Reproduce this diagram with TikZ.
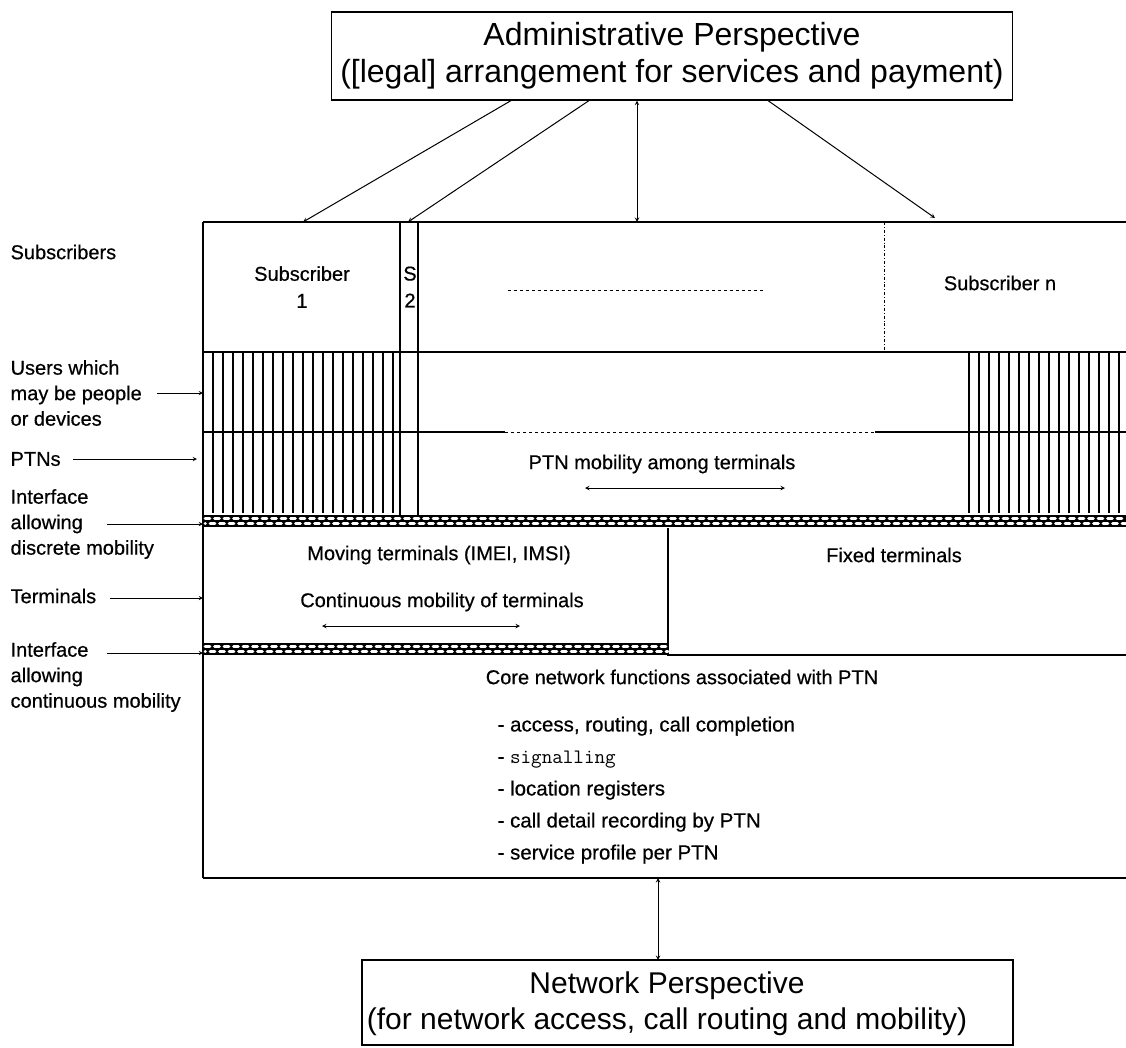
\documentclass[tikz,border=0pt]{standalone}
\usepackage{fontspec}
\setmainfont{Liberation Sans}[FakeBold=0.5]
\newfontfamily\plainsans{Liberation Sans}

\tikzset{
  lbl/.style={anchor=west,align=left,inner sep=0pt,font=\fontsize{20}{25.5}\selectfont},
  txt/.style={inner sep=0pt,align=center,font=\fontsize{20}{27}\selectfont},
  persp/.style={align=center,font=\plainsans\fontsize{32}{37}\selectfont},
  band/.style={white,line width=2.6pt,line cap=round,dash pattern=on 5pt off 4.5pt},
  thin/.style={line width=0.8pt}
}
% interface band: left x, right x, top y
\newcommand{\ifband}[3]{%
  \fill (#1,#3) rectangle (#2,#3+12);
  \draw[band] (#1+2,#3+3.6) -- (#2,#3+3.6);
  \draw[band,dash phase=4.5pt] (#1+2,#3+8.4) -- (#2,#3+8.4);
}

\begin{document}
\begin{tikzpicture}[x=1pt,y=-1pt,>=stealth,line width=1.2pt]
  \useasboundingbox (0,0) rectangle (1126,1047);

  % the two perspectives
  \node[persp,draw,minimum width=681pt,minimum height=88pt] (admin) at (672,56)
        {Administrative Perspective\\([legal] arrangement for services and payment)};
  \node[persp,font=\plainsans\fontsize{30}{36}\selectfont] (net) at (667,1004)
        {Network Perspective\\(for network access, call routing and mobility)};
  \draw (362,960) rectangle (1013,1045);
  \coordinate (nettop) at (658,960);

  % frame of the layers
  \coordinate (edge) at (203,0);
  \draw (203,222) -- (1126,222);
  \draw (203,222) -- (203,878);
  \draw (203,352) -- (1126,352);
  \draw (203,432) -- (505,432) (875,432) -- (1126,432);
  \draw[thin,dashed] (505,432) -- (875,432);
  \draw (400,222) -- (400,515) (418,222) -- (418,515);
  \draw[thin,dash dot] (884,222) -- (884,352);
  \draw[thin,dashed] (508,290) -- (765,290);
  \foreach \x in {213,223,...,393}
    \draw[line width=1.4pt] (\x,352) -- (\x,513);
  \foreach \x in {969,979,...,1119}
    \draw[line width=1.4pt] (\x,352) -- (\x,513);
  \draw[line width=2pt] (203,352) -- (203,515);
  \ifband{203}{1126}{515}
  \draw (668,528) -- (668,655) -- (1126,655);
  \ifband{203}{668}{643}
  \draw (203,878) -- (1126,878);

  % texts in the layers
  \node[txt] (sub1) at (302,287) {Subscriber\\1};
  \node[txt] (sub2) at (410,287) {S\\2};
  \node[txt] (subn) at (1000,283) {Subscriber n};
  \node[txt] (ptnmob) at (662,464) {PTN mobility among terminals};
  \node[txt] (moving) at (439,555) {Moving terminals (IMEI, IMSI)};
  \node[txt] (contmob) at (442,602) {Continuous mobility of terminals};
  \node[txt] (fixed) at (894,555) {Fixed terminals};
  \node[txt] (core) at (682,677) {Core network functions associated with PTN};
  \node[lbl,anchor=north west,font=\fontsize{20.5}{32}\selectfont] (funcs) at (497,716)
        {- access, routing, call completion\\- {\ttfamily signalling}\\- location registers\\
         - call detail recording by PTN\\- service profile per PTN};

  \coordinate (pl) at (585,488);
  \coordinate (pr) at (785,488);
  \draw[<->,line width=1pt] (pl) -- (pr);
  \coordinate (cl) at (322,626);
  \coordinate (cr) at (520,626);
  \draw[<->,line width=1pt] (cl) -- (cr);

  % links to the perspectives
  \coordinate (s1) at (303,222);
  \coordinate (s2) at (408,222);
  \coordinate (sm) at (637,222);
  \coordinate (sn) at (935,218);
  \coordinate (cb) at (658,878);
  \draw[->,line width=1pt] ([xshift=-161pt]admin.south) -- (s1);
  \draw[->,line width=1pt] ([xshift=-83pt]admin.south) -- (s2);
  \draw[<->,line width=1pt] ([xshift=-35pt]admin.south) -- (sm);
  \draw[->,line width=1pt] ([xshift=96pt]admin.south) -- (sn);
  \draw[<->,line width=1pt] (cb) -- (nettop);

  % labels on the left
  \node[lbl] (lsubs) at (10,252) {Subscribers};
  \node[lbl] (lusers) at (10,393) {Users which\\may be people\\or devices};
  \node[lbl] (lptn) at (10,459) {PTNs};
  \node[lbl] (lif1) at (10,524) {Interface\\allowing\\discrete mobility};
  \node[lbl] (lterm) at (10,596) {Terminals};
  \node[lbl] (lif2) at (10,677) {Interface\\allowing\\continuous mobility};

  \draw[->,line width=0.9pt] ([xshift=147pt]lusers.west) -- (lusers.west -| edge);
  \draw[->,line width=0.9pt] ([xshift=63pt]lptn.west) -- ([xshift=-6pt]lptn.west -| edge);
  \draw[->,line width=0.9pt] ([xshift=97pt]lif1.west) -- (lif1.west -| edge);
  \draw[->,line width=0.9pt] ([xshift=100pt,yshift=-2pt]lterm.west) -- ([yshift=-2pt]lterm.west -| edge);
  \draw[->,line width=0.9pt] ([xshift=97pt,yshift=24pt]lif2.west) -- ([yshift=24pt]lif2.west -| edge);
\end{tikzpicture}
\end{document}
